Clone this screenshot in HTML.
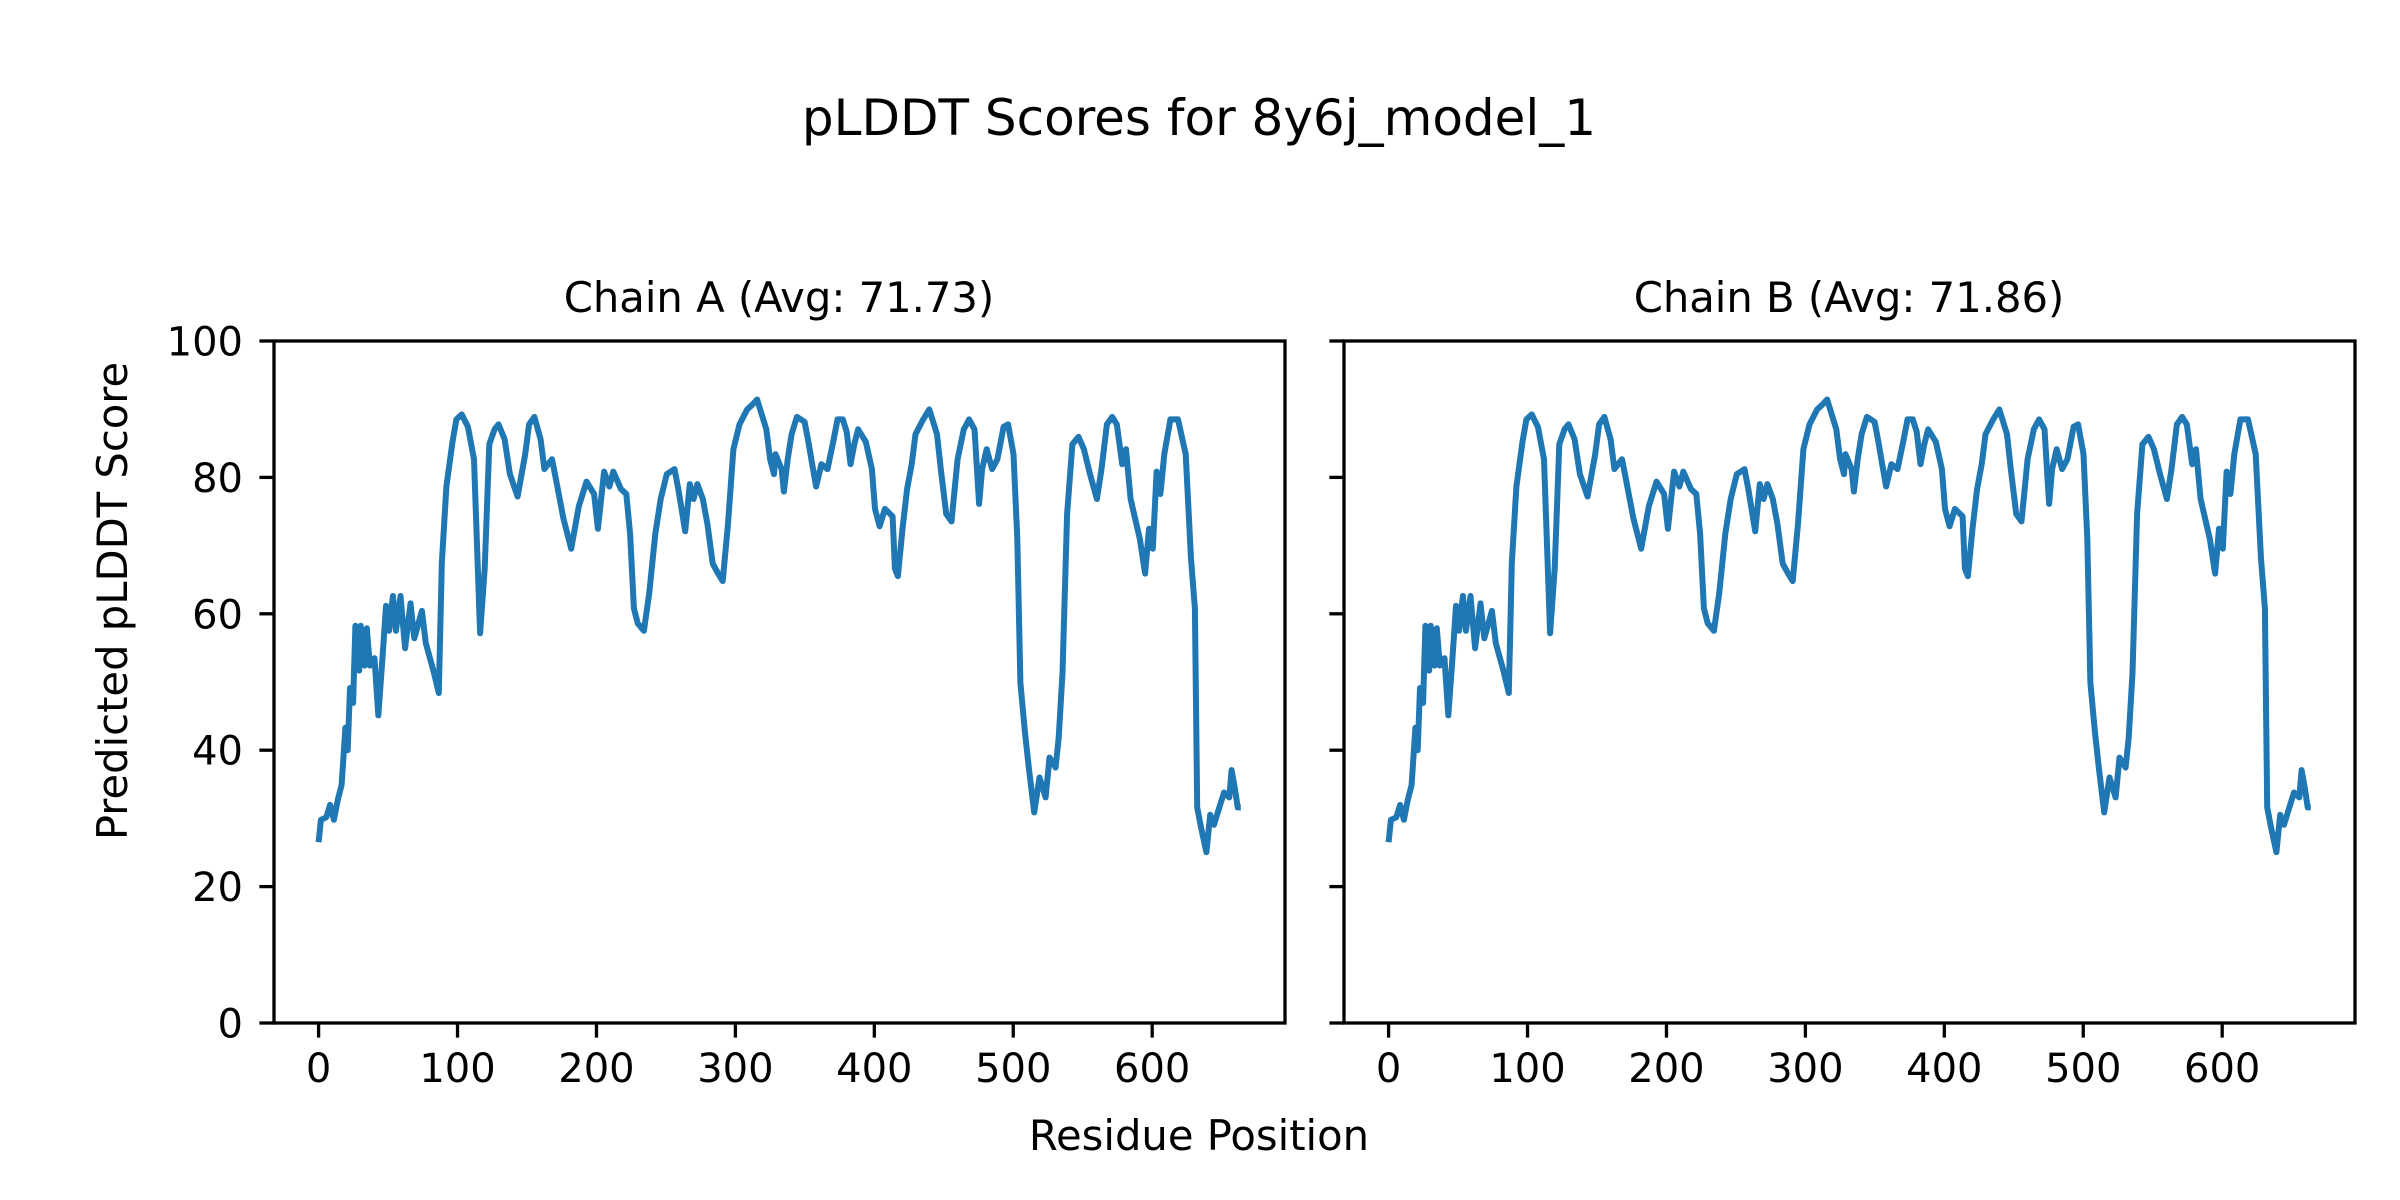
<!DOCTYPE html>
<html><head><meta charset="utf-8"><style>
html,body{margin:0;padding:0;background:#fff;}
svg{display:block;}
text{font-family:"DejaVu Sans","Liberation Sans",sans-serif;fill:#000;}
</style></head><body>
<svg id="s" width="2400" height="1200" viewBox="0 0 2400 1200" xmlns="http://www.w3.org/2000/svg">
<rect width="2400" height="1200" fill="#fff"/>
<text x="1199" y="135" font-size="50" text-anchor="middle">pLDDT Scores for 8y6j_model_1</text>
<text x="779" y="312" font-size="41.7" text-anchor="middle">Chain A (Avg: 71.73)</text>
<text x="1849" y="312" font-size="41.7" text-anchor="middle">Chain B (Avg: 71.86)</text>
<text x="1199" y="1150" font-size="41.7" text-anchor="middle">Residue Position</text>
<text transform="translate(127,601) rotate(-90)" font-size="41.7" text-anchor="middle">Predicted pLDDT Score</text>
<g id="g"></g>
</svg>
<script>
var pts=[[155,1090],[158,1045],[165,1040],[170,1015],[175,1045],[180,1005],[185,975],[190,860],[193,905],[196,780],[200,810],[203,655],[208,745],[210,655],[215,735],[218,660],[222,735],[228,720],[233,835],[238,730],[243,615],[247,665],[252,595],[256,665],[262,595],[268,700],[275,610],[280,680],[290,625],[295,690],[305,745],[312,790],[316,530],[322,375],[330,285],[335,240],[342,230],[350,255],[358,320],[366,670],[372,540],[378,290],[385,260],[390,250],[398,280],[405,350],[415,395],[425,310],[430,250],[437,235],[445,280],[450,340],[460,320],[465,360],[475,440],[485,500],[495,415],[505,365],[515,390],[520,460],[528,345],[535,375],[540,345],[550,380],[557,390],[562,470],[567,620],[572,650],[580,665],[587,590],[595,470],[602,400],[610,350],[620,340],[625,380],[634,465],[640,370],[645,400],[650,370],[657,400],[663,450],[670,530],[677,550],[683,565],[690,450],[697,300],[705,250],[715,220],[722,210],[728,200],[735,235],[740,260],[745,320],[750,350],[752,310],[760,340],[763,385],[768,320],[773,270],[780,235],[790,245],[795,285],[800,330],[805,375],[812,330],[820,340],[828,280],[833,240],[840,240],[845,265],[850,330],[855,290],[860,260],[870,285],[878,340],[882,420],[888,455],[895,420],[905,435],[908,540],[912,555],[918,460],[924,380],[930,330],[935,270],[945,240],[953,220],[963,270],[968,340],[975,430],[982,445],[990,320],[998,260],[1005,240],[1012,260],[1018,410],[1022,340],[1028,300],[1035,340],[1042,320],[1050,255],[1056,250],[1063,310],[1068,480],[1072,770],[1078,870],[1083,940],[1090,1030],[1097,960],[1105,1000],[1110,920],[1118,940],[1122,880],[1127,750],[1133,430],[1140,290],[1148,275],[1155,300],[1163,350],[1172,400],[1178,340],[1185,250],[1192,235],[1198,250],[1205,330],[1210,300],[1216,400],[1222,440],[1228,480],[1235,550],[1240,460],[1245,500],[1250,345],[1255,390],[1260,310],[1268,240],[1278,240],[1288,310],[1295,520],[1300,620],[1303,1020],[1308,1060],[1315,1110],[1320,1035],[1325,1055],[1330,1030],[1338,990],[1345,1000],[1348,945],[1352,980],[1356,1020],[1360,1020]];
var h='';
var L=274,R=1285,T=341,B=1023;
function X(d){return 318.6+d*1.3893;}
function Y(v){return B-v*6.82;}
[0,1070].forEach(function(o,i){
  var p=pts.map(function(q){return (200+q[0]/1.3067+o).toFixed(1)+','+(300+q[1]/2.0103).toFixed(1);}).join(' ');
  h+='<polyline points="'+p+'" fill="none" stroke="#1f77b4" stroke-width="6" stroke-linejoin="round"/>';
  h+='<rect x="'+(L+o)+'" y="'+T+'" width="'+(R-L)+'" height="'+(B-T)+'" fill="none" stroke="#000" stroke-width="3.3"/>';
  for(var d=0;d<=600;d+=100){var x=X(d)+o;h+='<line x1="'+x+'" y1="'+B+'" x2="'+x+'" y2="'+(B+14.6)+'" stroke="#000" stroke-width="3.3"/>';
    h+='<text x="'+x+'" y="1082" font-size="40" text-anchor="middle">'+d+'</text>';}
  for(var v=0;v<=100;v+=20){var y=Y(v);h+='<line x1="'+(L+o)+'" y1="'+y+'" x2="'+(L+o-14.6)+'" y2="'+y+'" stroke="#000" stroke-width="3.3"/>';
    if(i==0)h+='<text x="243" y="'+(y+14.5)+'" font-size="40" text-anchor="end">'+v+'</text>';}
});
document.getElementById('g').innerHTML=h;
</script>
</body></html>
